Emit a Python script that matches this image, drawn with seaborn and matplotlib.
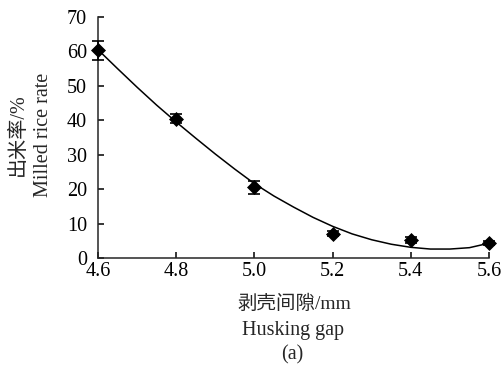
import numpy as np
import pandas as pd
import seaborn as sns
import matplotlib
matplotlib.use("Agg")
import matplotlib.pyplot as plt

# measured points (mean +- error)
gap = [4.6, 4.8, 5.0, 5.2, 5.4, 5.6]
rate = [60.3, 40.5, 20.5, 7.1, 5.2, 4.3]
err = [2.7, 1.3, 2.0, 0.8, 0.9, 0.6]

# fitted trend curve
curve_x = [4.6, 4.65, 4.7, 4.75, 4.8, 4.85, 4.9, 4.95, 5.0, 5.05, 5.1,
           5.15, 5.2, 5.25, 5.3, 5.35, 5.4, 5.45, 5.5, 5.55, 5.6]
curve_y = [60.5, 55.0, 49.6, 44.4, 39.5, 34.8, 30.2, 25.8, 21.6, 18.0, 14.8,
           11.8, 9.2, 7.0, 5.3, 4.0, 3.1, 2.6, 2.6, 3.0, 4.3]

xticks = [4.6, 4.8, 5.0, 5.2, 5.4, 5.6]
yticks = [0, 10, 20, 30, 40, 50, 60, 70]

sns.set_style("ticks")
plt.rcParams['font.family'] = ['Liberation Serif', 'Noto Sans CJK SC', 'DejaVu Sans']

df_pts = pd.DataFrame({"gap": gap, "rate": rate})
df_curve = pd.DataFrame({"gap": curve_x, "rate": curve_y})

fig = plt.figure(figsize=(5.01, 3.65), dpi=100)
ax = fig.add_axes([98 / 501, 1 - 258 / 365, (489 - 98) / 501, (258 - 17) / 365])

sns.lineplot(data=df_curve, x="gap", y="rate", ax=ax, color="black", lw=1.1,
             clip_on=False)
ax.errorbar(gap, rate, yerr=err, fmt="none", ecolor="black", elinewidth=1.2,
            capsize=4.5, capthick=1.2, clip_on=False, zorder=3)
sns.scatterplot(data=df_pts, x="gap", y="rate", ax=ax, marker="D", s=50,
                color="black", edgecolor="black", clip_on=False, zorder=4)

ax.set_xlim(4.6, 5.6)
ax.set_ylim(0, 70)
ax.set_xticks(xticks)
ax.set_xticklabels([f"{v:.1f}" for v in xticks])
ax.set_yticks(yticks)
ax.set_xlabel("")
ax.set_ylabel("")
sns.despine(ax=ax)
for s in ["left", "bottom"]:
    ax.spines[s].set_linewidth(1.1)
ax.tick_params(axis="both", direction="in", length=4, width=1.1,
               labelsize=14.5, colors="black")
ax.tick_params(axis="x", pad=3)
ax.tick_params(axis="y", pad=8)

# axis titles
fig.text(294 / 501, 1 - 309 / 365, "剥壳间隙/mm", ha="center", va="baseline", fontsize=14)
fig.text(293.5 / 501, 1 - 335 / 365, "Husking gap", ha="center", va="baseline", fontsize=14.5)
fig.text(292 / 501, 1 - 359.5 / 365, "(a)", ha="center", va="baseline", fontsize=14.5)
fig.text(18 / 501, 1 - 135 / 365, "出米率/%", rotation=90, ha="center", va="center", fontsize=14.5)
fig.text(43 / 501, 1 - 135 / 365, "Milled rice rate", rotation=90, ha="center", va="center", fontsize=14.5)

fig.savefig("out.png", dpi=100, facecolor="white")
